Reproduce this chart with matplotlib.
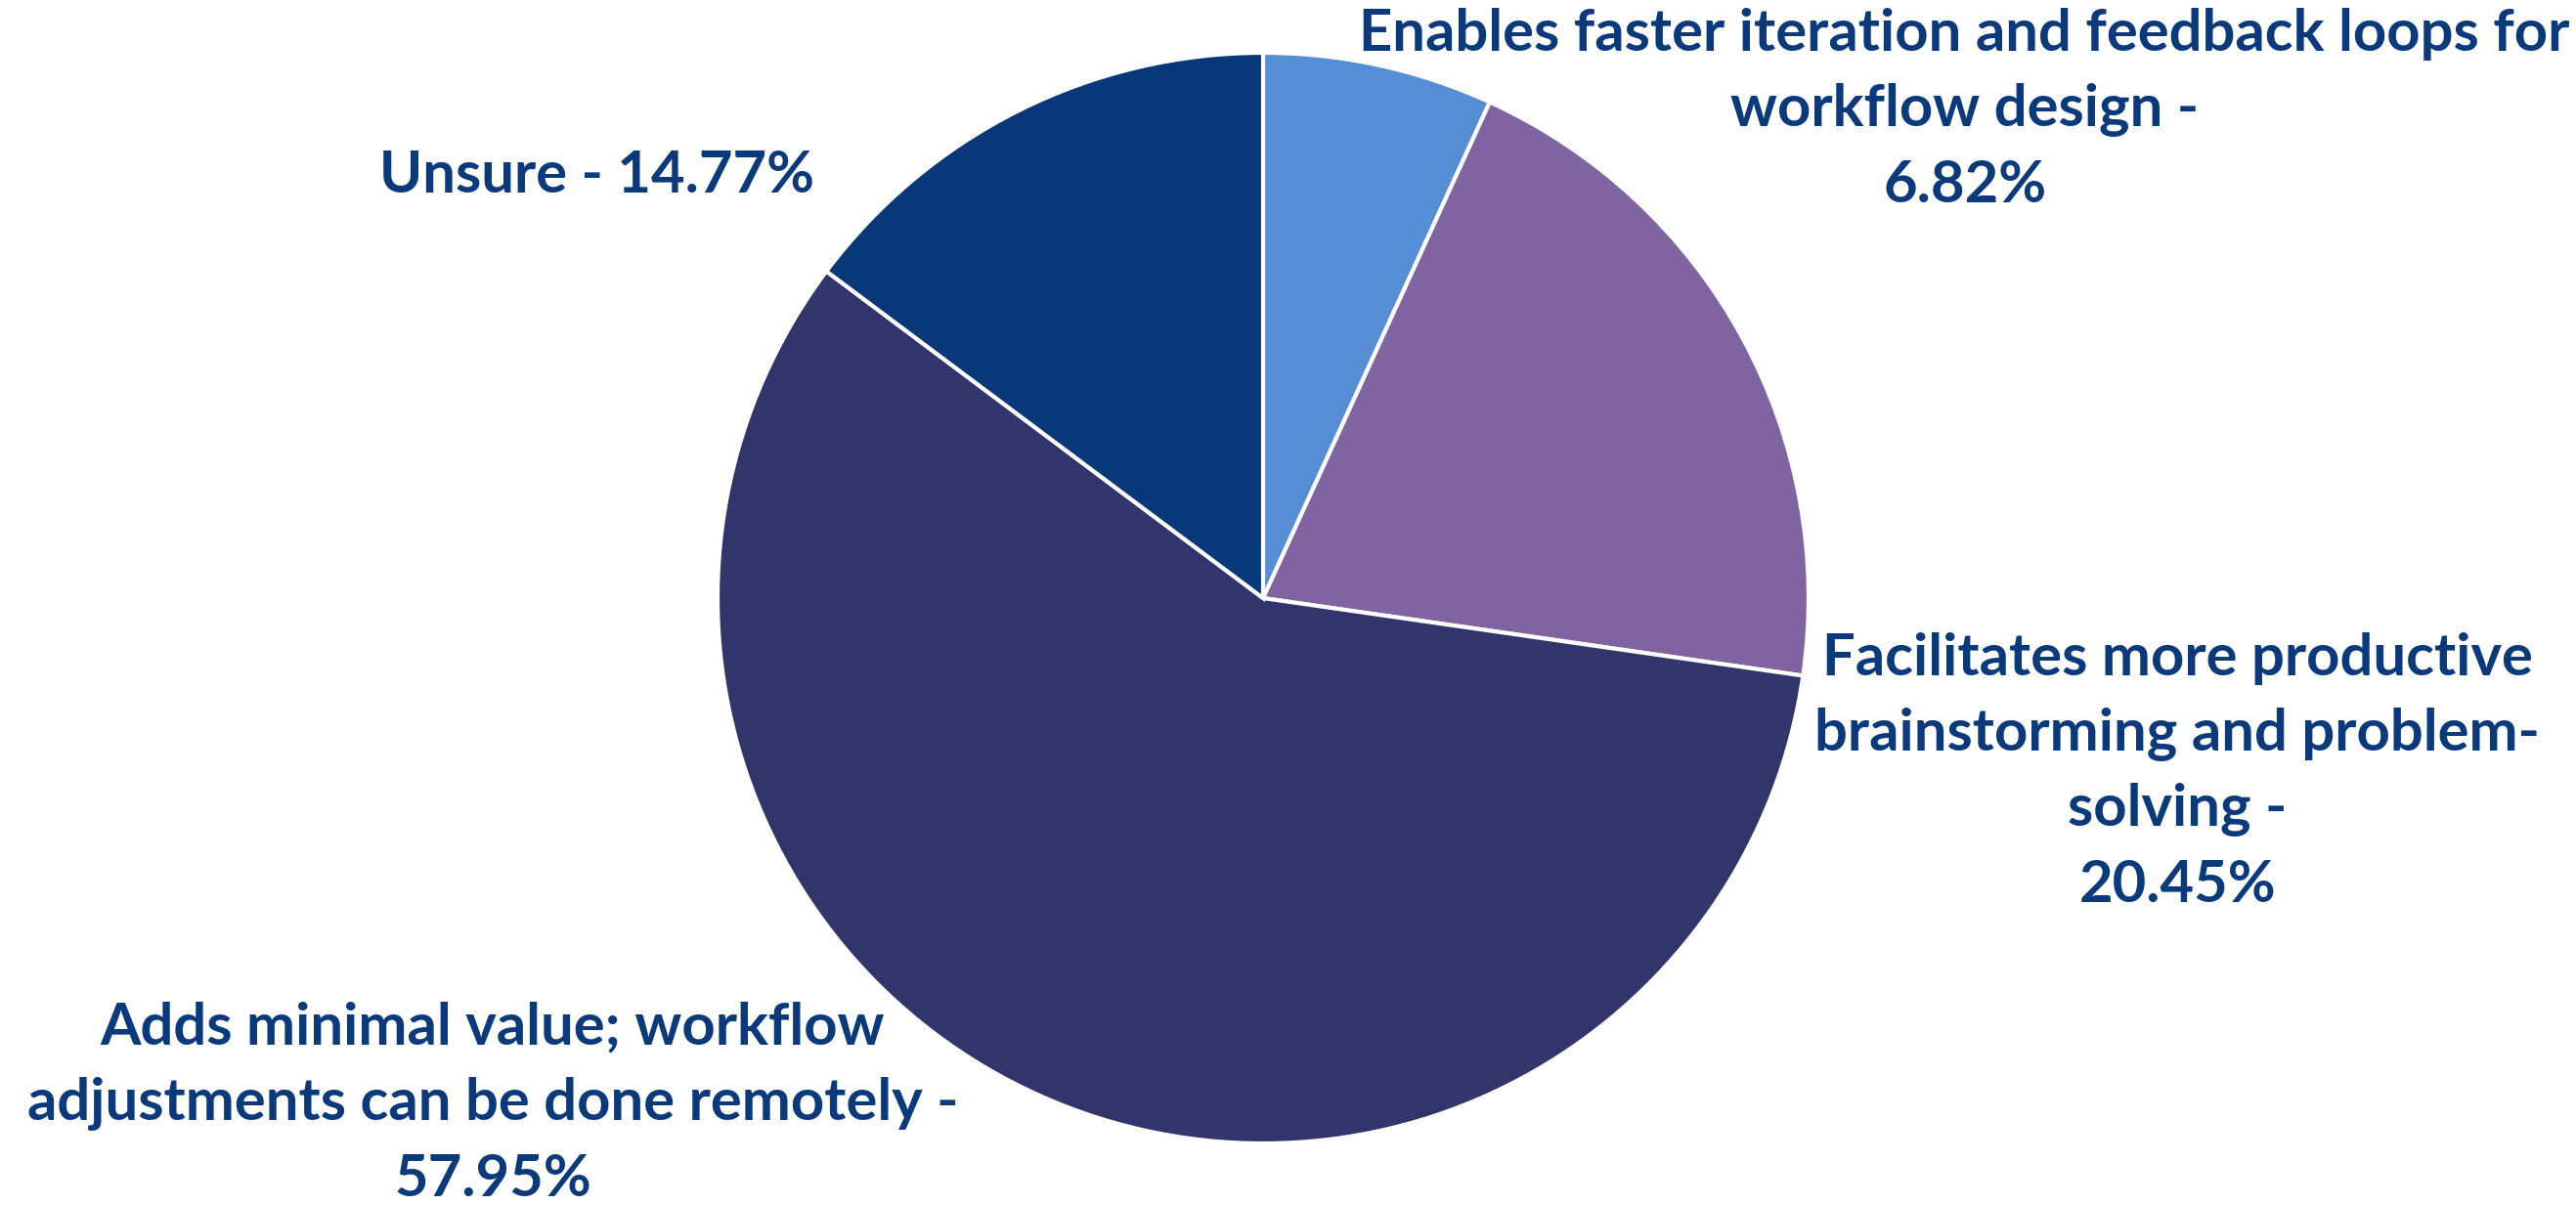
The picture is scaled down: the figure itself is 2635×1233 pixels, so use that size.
import matplotlib
matplotlib.use("Agg")
import matplotlib.pyplot as plt
from matplotlib import font_manager

# survey answers, clockwise from 12 o'clock
labels = [
    "Enables faster iteration and feedback loops for\nworkflow design -\n6.82%",
    "Facilitates more productive\nbrainstorming and problem-\nsolving -\n20.45%",
    "Adds minimal value; workflow\nadjustments can be done remotely -\n57.95%",
    "Unsure - 14.77%",
]
values = [6.82, 20.45, 57.95, 14.77]
colors = ["#558ED5", "#8064A2", "#31356B", "#08377A"]

# label anchor points, in pie radii
label_pos = [(1.286, 0.895), (1.676, -0.319), (-1.412, -0.927), (-1.222, 0.774)]

names = {f.name for f in font_manager.fontManager.ttflist}
font = "Liberation Sans Narrow" if "Liberation Sans Narrow" in names else "Lato"
fsize = 41 if font == "Liberation Sans Narrow" else 43
text_color = "#0B3A7C"

W, H = 2635, 1233
cx, cy, r = 1292, 612, 558
fig = plt.figure(figsize=(W / 100, H / 100), dpi=100)
ax = fig.add_axes([(cx - r) / W, (H - cy - r) / H, 2 * r / W, 2 * r / H])

ax.pie(values, colors=colors, startangle=90, counterclock=False, radius=1,
       wedgeprops=dict(edgecolor="white", linewidth=3))
ax.set_xlim(-1, 1)
ax.set_ylim(-1, 1)
ax.set_aspect("equal")
ax.axis("off")

for lab, (x, y) in zip(labels, label_pos):
    ax.text(x, y, lab, ha="center", va="center", fontsize=fsize, fontweight="bold",
            family=font, color=text_color, linespacing=1.52, clip_on=False)

fig.savefig("out.png", dpi=100)
